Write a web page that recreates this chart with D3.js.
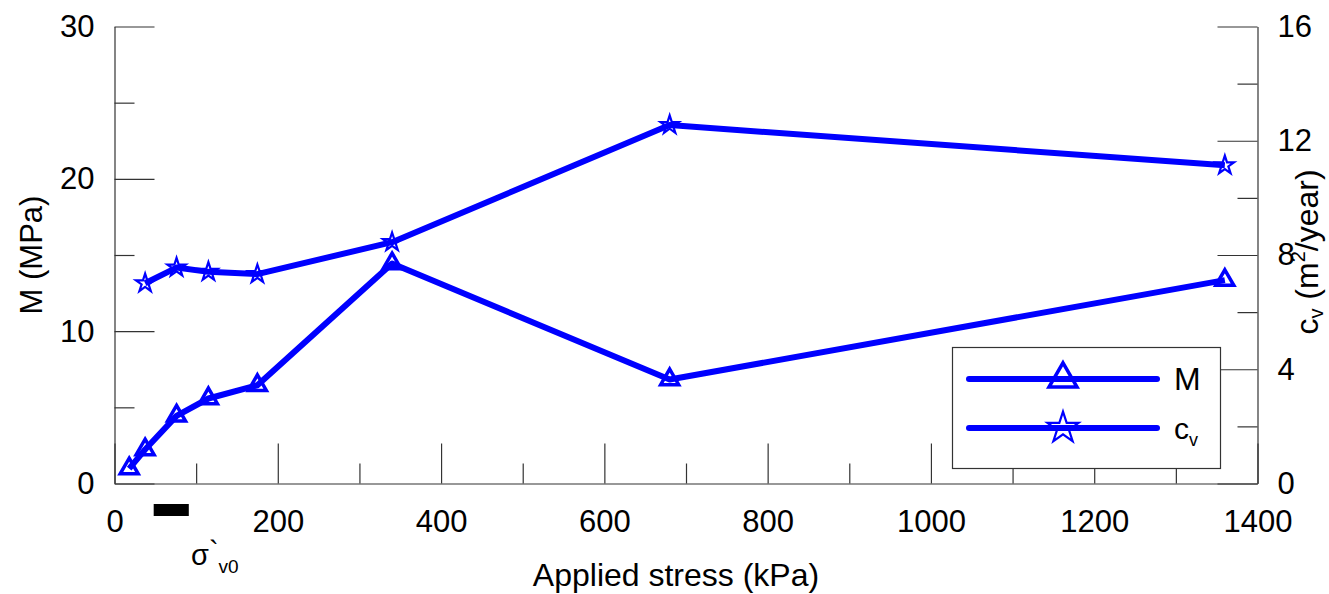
<!DOCTYPE html>
<html>
<head>
<meta charset="utf-8">
<script src="https://cdn.jsdelivr.net/npm/d3@7"></script>
<style>
  body { margin: 0; background: #fff; }
  text { font-family: "Liberation Sans", Arial, sans-serif; fill: #000; }
</style>
</head>
<body>
<div id="chart"></div>
<script>
// applied stress steps (kPa)
const stress = [18, 37.5, 76, 115, 175, 340, 680, 1360];
// constrained modulus M (MPa)
const modulus = [0.98, 2.23, 4.44, 5.58, 6.45, 14.44, 6.83, 13.35];
// coefficient of consolidation cv (m2/year), first step has none
const cvStress = [37.5, 76, 115, 175, 340, 680, 1360];
const cv = [7.01, 7.56, 7.41, 7.33, 8.45, 12.55, 11.14];
// range of in-situ vertical effective stress (kPa)
const sigmaV0 = [48, 91];

const xTicks = [0, 200, 400, 600, 800, 1000, 1200, 1400];
const xMinor = [100, 300, 500, 700, 900, 1100, 1300];
const yTicks = [0, 10, 20, 30];
const yMinor = [5, 15, 25];
const cvTicks = [0, 4, 8, 12, 16];
const cvMinor = [2, 6, 10, 14];

const W = 1329, H = 594;
const blue = '#0000ff';
const axisColor = '#333';

const svg = d3.select('#chart').append('svg')
    .attr('width', W).attr('height', H);

const x = d3.scaleLinear().domain([0, 1400]).range([114.5, 1257.5]);
const y = d3.scaleLinear().domain([0, 30]).range([483.5, 26.5]);
const yR = d3.scaleLinear().domain([0, 16]).range([483.5, 26.5]);

function styleAxis(g) {
    g.selectAll('path, line').attr('stroke', axisColor).attr('stroke-width', 1.2);
    g.selectAll('text').attr('font-size', 31).attr('font-family', '"Liberation Sans", Arial, sans-serif');
}

// bottom axis
svg.append('g').attr('transform', `translate(0,${y(0)})`)
    .call(d3.axisBottom(x).tickValues(xTicks).tickFormat(d3.format('d'))
        .tickSize(-40).tickSizeOuter(0).tickPadding(26))
    .call(styleAxis);
svg.append('g').attr('transform', `translate(0,${y(0)})`)
    .call(d3.axisBottom(x).tickValues(xMinor).tickSize(-20).tickFormat(''))
    .call(g => g.select('.domain').remove())
    .call(styleAxis);

// left axis
svg.append('g').attr('transform', `translate(${x(0)},0)`)
    .call(d3.axisLeft(y).tickValues(yTicks).tickSize(-40).tickSizeOuter(0).tickPadding(20))
    .call(styleAxis);
svg.append('g').attr('transform', `translate(${x(0)},0)`)
    .call(d3.axisLeft(y).tickValues(yMinor).tickSize(-20).tickFormat(''))
    .call(g => g.select('.domain').remove())
    .call(styleAxis);

// right axis
svg.append('g').attr('transform', `translate(${x(1400)},0)`)
    .call(d3.axisRight(yR).tickValues(cvTicks).tickSize(-40).tickSizeOuter(0).tickPadding(20))
    .call(styleAxis);
svg.append('g').attr('transform', `translate(${x(1400)},0)`)
    .call(d3.axisRight(yR).tickValues(cvMinor).tickSize(-20).tickFormat(''))
    .call(g => g.select('.domain').remove())
    .call(styleAxis);

// axis titles
svg.append('text')
    .attr('x', 676).attr('y', 586)
    .attr('text-anchor', 'middle').attr('font-size', 32)
    .text('Applied stress (kPa)');

svg.append('text')
    .attr('transform', `translate(42,${(y(0) + y(30)) / 2}) rotate(-90)`)
    .attr('text-anchor', 'middle').attr('font-size', 31)
    .text('M (MPa)');

const cvLabel = svg.append('text')
    .attr('transform', `translate(1318,252) rotate(-90)`)
    .attr('text-anchor', 'middle').attr('font-size', 32);
cvLabel.append('tspan').text('c');
cvLabel.append('tspan').attr('font-size', 20).attr('dy', 5).text('v');
cvLabel.append('tspan').attr('dy', -5).text(' (m');
cvLabel.append('tspan').attr('font-size', 20).attr('dy', -13).text('2');
cvLabel.append('tspan').attr('dy', 13).text('/year)');

// sigma'v0 range bar and label
svg.append('rect')
    .attr('x', x(sigmaV0[0])).attr('y', 504)
    .attr('width', x(sigmaV0[1]) - x(sigmaV0[0])).attr('height', 12)
    .attr('fill', '#000');

const sLabel = svg.append('text').attr('x', 191).attr('y', 565).attr('font-size', 29);
sLabel.append('tspan').text('σ');
sLabel.append('tspan').attr('dy', -4).text('`');
sLabel.append('tspan').attr('font-size', 19).attr('dy', 12).text('v0');

// series
const mData = stress.map((s, i) => [s, modulus[i]]);
const cvData = cvStress.map((s, i) => [s, cv[i]]);

const lineM = d3.line().x(d => x(d[0])).y(d => y(d[1]));
const lineCv = d3.line().x(d => x(d[0])).y(d => yR(d[1]));

svg.append('path').datum(mData)
    .attr('fill', 'none').attr('stroke', blue).attr('stroke-width', 6)
    .attr('stroke-linejoin', 'round').attr('d', lineM);
svg.append('path').datum(cvData)
    .attr('fill', 'none').attr('stroke', blue).attr('stroke-width', 6)
    .attr('stroke-linejoin', 'round').attr('d', lineCv);

const tri = d3.symbol().type(d3.symbolTriangle);
const star = d3.symbol().type(d3.symbolStar);

svg.append('g').selectAll('path').data(mData).join('path')
    .attr('transform', d => `translate(${x(d[0])},${y(d[1])})`)
    .attr('d', tri.size(140)())
    .attr('fill', 'none').attr('stroke', blue).attr('stroke-width', 3.5);

svg.append('g').selectAll('path').data(cvData).join('path')
    .attr('transform', d => `translate(${x(d[0])},${yR(d[1])})`)
    .attr('d', star.size(105)())
    .attr('fill', 'none').attr('stroke', blue).attr('stroke-width', 2.2);

// legend
const legend = svg.append('g');
legend.append('rect')
    .attr('x', 952.5).attr('y', 347.5).attr('width', 268).attr('height', 121)
    .attr('fill', '#fff').attr('stroke', axisColor).attr('stroke-width', 1.2);

const legendItems = [
    {label: 'M', y: 379, size: 32, sym: tri.size(340)(), sw: 3.5},
    {label: 'c', sub: 'v', y: 428, size: 30, sym: star.size(300)(), sw: 2.2}
];
legendItems.forEach(it => {
    legend.append('line')
        .attr('x1', 969).attr('x2', 1157).attr('y1', it.y).attr('y2', it.y)
        .attr('stroke', blue).attr('stroke-width', 6).attr('stroke-linecap', 'round');
    legend.append('path')
        .attr('transform', `translate(1063,${it.y})`)
        .attr('d', it.sym)
        .attr('fill', 'none').attr('stroke', blue).attr('stroke-width', it.sw);
    const t = legend.append('text').attr('x', 1174).attr('y', it.y + 11).attr('font-size', it.size);
    t.append('tspan').text(it.label);
    if (it.sub) t.append('tspan').attr('font-size', 18).attr('dy', 7).text(it.sub);
});
</script>
</body>
</html>
